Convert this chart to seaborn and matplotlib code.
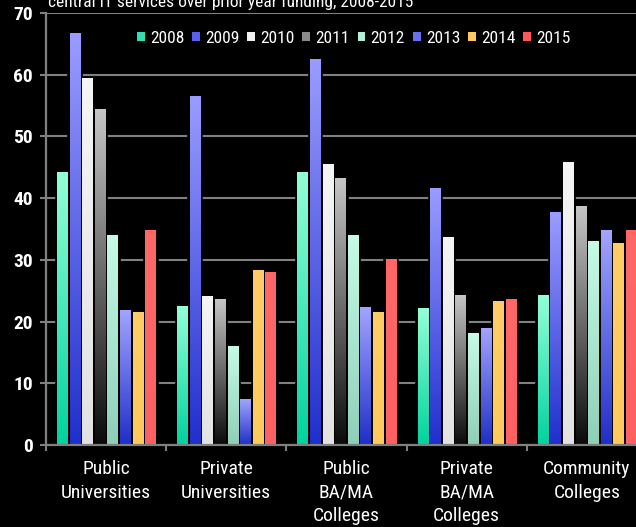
import numpy as np
import pandas as pd
import matplotlib
matplotlib.use("Agg")
import matplotlib.pyplot as plt
from matplotlib.colors import LinearSegmentedColormap, to_hex
from matplotlib.patches import Patch
import seaborn as sns

# Datos
categorias = ["Public\nUniversities", "Private\nUniversities", "Public\nBA/MA\nColleges",
              "Private\nBA/MA\nColleges", "Community\nColleges"]
anios = ["2008", "2009", "2010", "2011", "2012", "2013", "2014", "2015"]

v2008 = [44.1, 22.5, 44.1, 22.1, 24.2]
v2009 = [66.7, 56.4, 62.4, 41.5, 37.6]
v2010 = [59.4, 24.0, 45.4, 33.6, 45.8]
v2011 = [54.3, 23.5, 43.2, 24.3, 38.6]
v2012 = [34.0, 15.9, 33.9, 18.0, 33.0]
v2013 = [21.8, 7.4, 22.2, 18.9, 34.7]
v2014 = [21.4, 28.3, 21.4, 23.2, 32.6]
v2015 = [34.8, 27.9, 30.0, 23.6, 34.8]

titulo = "central IT services over prior year funding, 2008-2015"

# colores: (abajo, arriba) del degradado y color solido para la leyenda
degradados = {
    "2008": ("#00d39e", "#93ffd6"),
    "2009": ("#1f2fcc", "#9a9cff"),
    "2010": ("#e2e2e2", "#f5f5f5"),
    "2011": ("#0a0a0a", "#c6c6c6"),
    "2012": ("#8ecfb8", "#c6fbe6"),
    "2013": ("#1f2fc6", "#a2a4ff"),
    "2014": ("#ffc95e", "#ffcc66"),
    "2015": ("#ff6060", "#ff6868"),
}
solidos = {
    "2008": "#30e0b0", "2009": "#5a60ee", "2010": "#f0f0f0", "2011": "#8a8a8a",
    "2012": "#b0f0d8", "2013": "#6870ee", "2014": "#ffc860", "2015": "#ff5858",
}

valores = [v2008, v2009, v2010, v2011, v2012, v2013, v2014, v2015]
df = pd.DataFrame({
    "grupo": np.tile(categorias, len(anios)),
    "anio": np.repeat(anios, len(categorias)),
    "valor": np.concatenate(valores),
})

sns.set_theme(style="white")
plt.rcParams["font.family"] = ["Roboto Condensed", "Liberation Sans", "DejaVu Sans"]

gris = "#808080"
fig = plt.figure(figsize=(6.36, 5.27), dpi=100, facecolor="black")
ax = fig.add_axes([46 / 636, (527 - 445) / 527, 601 / 636, 432 / 527])
ax.set_facecolor("black")

sns.barplot(data=df, x="grupo", y="valor", hue="anio", order=categorias, hue_order=anios,
            palette=solidos, saturation=1, width=0.84, gap=0, errorbar=None, legend=False, ax=ax)

# relleno con degradado: la barra queda negra (tapa la rejilla) y encima va la imagen
color_a_anio = {to_hex(c): a for a, c in solidos.items()}
grad = np.linspace(0, 1, 256).reshape(-1, 1)
margen = 1.3 / 120  # ~1.3 px en unidades de datos
for p in list(ax.patches):
    anio = color_a_anio.get(to_hex(p.get_facecolor()[:3]))
    if anio is None or p.get_height() <= 0:
        continue
    cmap = LinearSegmentedColormap.from_list("g" + anio, degradados[anio])
    x0, w, h = p.get_x(), p.get_width(), p.get_height()
    ax.imshow(grad, extent=[x0 + margen, x0 + w - margen, 0, h], origin="lower", cmap=cmap,
              aspect="auto", zorder=2.6, interpolation="bilinear")
    p.set_facecolor("black")
    p.set_edgecolor("black")
    p.set_linewidth(1.9)
    p.set_zorder(2.4)

ax.set_xlim(-0.5, 4.5)
ax.set_ylim(0, 70)
ax.set_yticks(range(0, 71, 10))
ax.yaxis.grid(True, color=gris, linewidth=1.5)
ax.xaxis.grid(False)
ax.set_axisbelow(True)

for lado in ["top", "right"]:
    ax.spines[lado].set_visible(False)
for lado in ["left", "bottom"]:
    ax.spines[lado].set_color(gris)
    ax.spines[lado].set_linewidth(1.6)
    ax.spines[lado].set_zorder(5)

ax.tick_params(axis="y", which="major", left=True, direction="out", length=4.5, width=1.5,
               color=gris, labelcolor="white", labelsize=14, pad=5)
for lab in ax.get_yticklabels():
    lab.set_fontweight("bold")

ax.set_xticks(range(len(categorias)))
ax.set_xticklabels(categorias, fontsize=14, color="white", linespacing=1.38)
ax.set_xticks(np.arange(-0.5, 5, 1), minor=True)
ax.tick_params(axis="x", which="major", length=0, pad=11)
ax.tick_params(axis="x", which="minor", bottom=True, direction="out", length=4, width=1.5, color=gris)
ax.set_xlabel("")
ax.set_ylabel("")

manijas = [Patch(facecolor=solidos[a], edgecolor="none") for a in anios]
ax.legend(manijas, anios, ncol=8, loc="center", bbox_to_anchor=(0.512, 0.942), frameon=False,
          fontsize=12.5, labelcolor="white", handlelength=0.45, handleheight=0.45,
          handletextpad=0.3, columnspacing=0.45)

fig.text(48 / 636, (527 - 7) / 527, titulo, color="white", fontsize=12.5, ha="left", va="baseline")

fig.savefig("out.png", dpi=100, facecolor="black")
